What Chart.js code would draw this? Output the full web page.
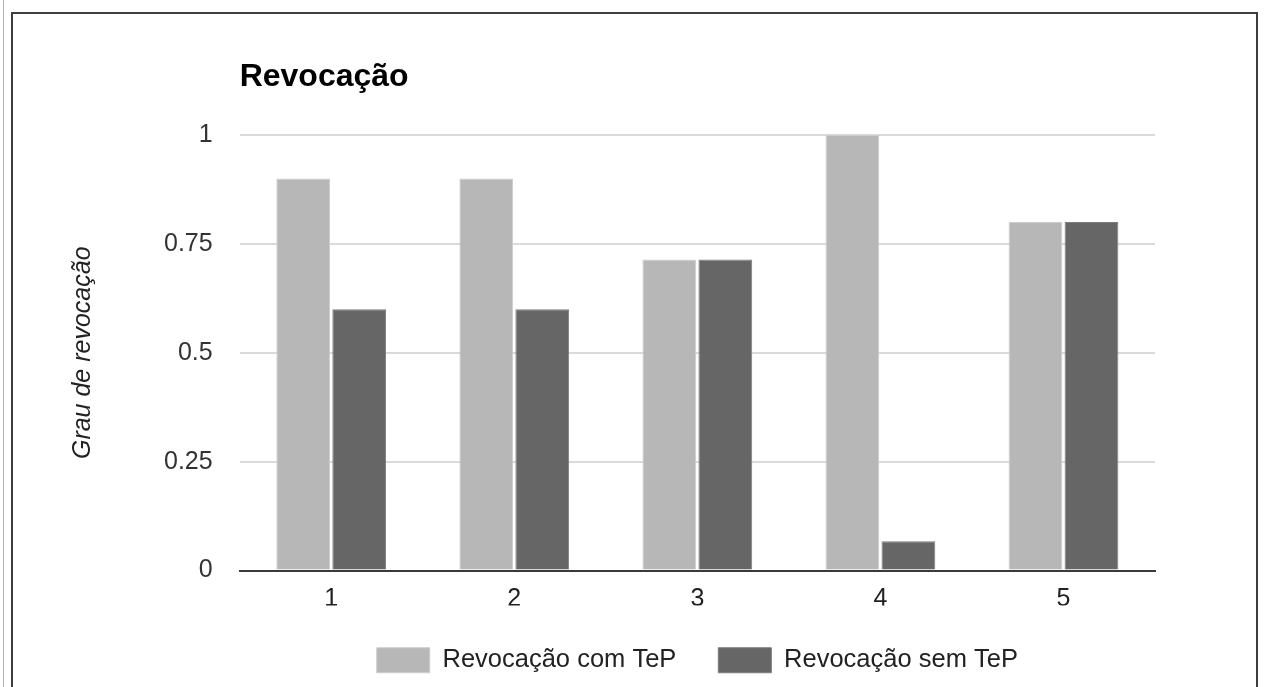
<!DOCTYPE html>
<html>
<head>
<meta charset="utf-8">
<script src="https://cdn.jsdelivr.net/npm/chart.js@4.4.1/dist/chart.umd.min.js"></script>
<style>
    html, body { margin: 0; padding: 0; background: #fff; overflow: hidden; }
    body { width: 1265px; height: 687px; position: relative; }
    #rule { position: absolute; left: 3px; top: 0; width: 1px; height: 687px; background: #b5b5b5; }
    #frame { position: absolute; left: 11px; top: 12px; width: 1243px; height: 800px; border: 2px solid #3d3d3d; }
    #wrap { position: absolute; left: 0; top: 0; width: 1265px; height: 687px; }
</style>
</head>
<body>
<div id="rule"></div>
<div id="frame"></div>
<div id="wrap"><canvas id="chartRecall"></canvas></div>
<script>
// Dados
const categories = ['1', '2', '3', '4', '5'];
const comTeP = [0.9, 0.9, 0.714, 1.0, 0.8];
const semTeP = [0.6, 0.6, 0.714, 0.067, 0.8];
const yTicks = [0, 0.25, 0.5, 0.75, 1];
const yTickLabels = ['0', '0.25', '0.5', '0.75', '1'];

const colors = {
    light: '#b7b7b7',
    lightEdge: '#cdcdcd',
    dark: '#666666',
    darkEdge: '#7c7c7c',
    grid: '#dadada',
    axis: '#3a3a3a',
    text: '#222222'
};

Chart.defaults.font.family = "Arial, 'Liberation Sans', sans-serif";
Chart.defaults.color = colors.text;

const ctx = document.getElementById('chartRecall').getContext('2d');
new Chart(ctx, {
    type: 'bar',
    data: {
        labels: categories,
        datasets: [
            {
                label: 'Revocação com TeP',
                data: comTeP,
                backgroundColor: colors.light,
                borderColor: colors.lightEdge,
                borderWidth: 1,
                categoryPercentage: 0.612,
                barPercentage: 0.96
            },
            {
                label: 'Revocação sem TeP',
                data: semTeP,
                backgroundColor: colors.dark,
                borderColor: colors.darkEdge,
                borderWidth: 1,
                categoryPercentage: 0.612,
                barPercentage: 0.96
            }
        ]
    },
    options: {
        responsive: true,
        maintainAspectRatio: false,
        animation: false,
        layout: { padding: { left: 2, right: 110, top: 0, bottom: 4 } },
        scales: {
            x: {
                z: 1,
                grid: { display: false, drawTicks: false },
                border: { display: true, color: colors.axis, width: 2 },
                ticks: {
                    padding: 23,
                    color: colors.text,
                    font: { size: 25, lineHeight: 0.48 }
                },
                // labels sit lower than the axis box height would allow
                afterFit: scale => { scale.height = 35; }
            },
            y: {
                min: 0,
                max: 1,
                afterBuildTicks: scale => {
                    scale.ticks = yTicks.map(v => ({ value: v }));
                },
                grid: {
                    drawTicks: false,
                    lineWidth: 2,
                    color: c => (c.tick && c.tick.value === 0) ? 'rgba(0,0,0,0)' : colors.grid
                },
                border: { display: false },
                ticks: {
                    padding: 27,
                    color: '#333',
                    font: { size: 25 },
                    callback: (value, index) => yTickLabels[index]
                },
                title: {
                    display: true,
                    text: 'Grau de revocação',
                    color: colors.text,
                    font: { size: 25, style: 'italic' },
                    padding: { top: 66, bottom: 39 }
                }
            }
        },
        plugins: {
            title: {
                display: true,
                text: 'Revocação',
                align: 'start',
                fullSize: false,
                color: '#000',
                font: { size: 32, weight: 'bold' },
                padding: { top: 58, bottom: 38.6 }
            },
            legend: {
                position: 'bottom',
                fullSize: false,
                labels: {
                    boxWidth: 53,
                    boxHeight: 25,
                    padding: 42,
                    color: colors.text,
                    font: { size: 25.5 }
                }
            },
            tooltip: { enabled: false }
        }
    }
});
</script>
</body>
</html>
